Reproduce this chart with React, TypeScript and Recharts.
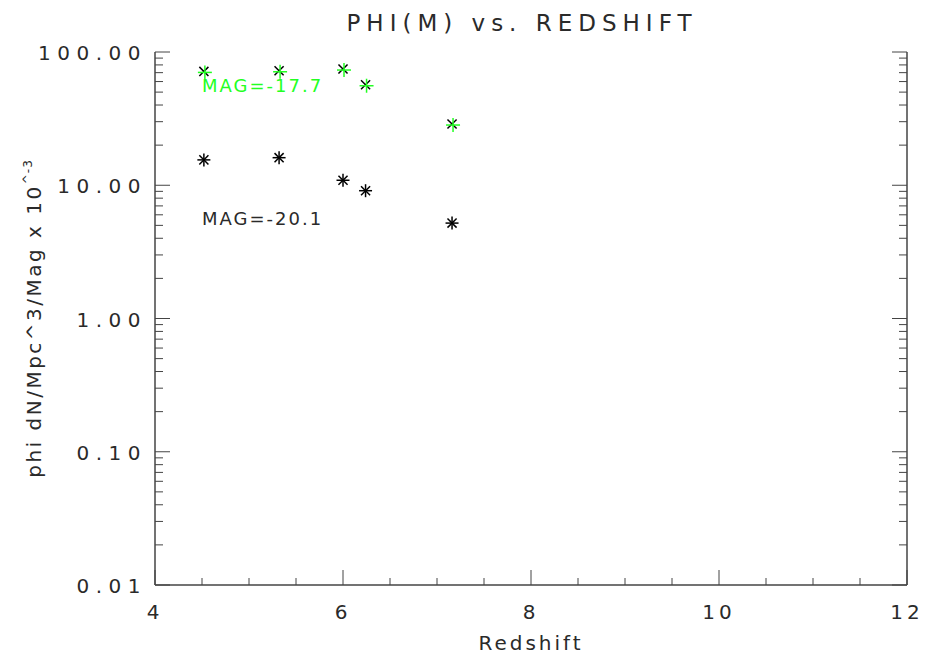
import React from "react";
import {
  ScatterChart,
  Scatter,
  XAxis,
  YAxis,
  ReferenceDot,
  Label,
} from "recharts";

// redshift bins and phi values (x 10^-3)
const redshift = [4.52, 5.32, 6.0, 6.24, 7.16];
const phiFaint = [71.5, 72.3, 74.5, 56.8, 28.8]; // MAG=-17.7
const phiBright = [15.5, 16.1, 10.9, 9.1, 5.2]; // MAG=-20.1

const xTicks = [4, 4.5, 5, 5.5, 6, 6.5, 7, 7.5, 8, 8.5, 9, 9.5, 10, 10.5, 11, 11.5, 12];
const xLabels = [4, 6, 8, 10, 12];
const yDecades = [0.01, 0.1, 1, 10, 100];
const yMinor = [1, 2, 3, 4, 5, 6, 7, 8, 9];

const yTicks = yDecades
  .flatMap((d) => (d === 100 ? [d] : yMinor.map((m) => +(d * m).toPrecision(3))));

const faint = redshift.map((z, i) => ({ z, phi: phiFaint[i] }));
const bright = redshift.map((z, i) => ({ z, phi: phiBright[i] }));

const FONT = "'DejaVu Sans', sans-serif";
const INK = "#2a2a2a";
const GREEN = "#22ff22";

const isDecade = (v: number) => Math.abs(Math.log10(v) - Math.round(Math.log10(v))) < 1e-6;

function Star({ cx, cy, color, parts, a = 6.5 }: any) {
  const d = a * 0.7;
  return (
    <g stroke={color} strokeWidth={1.5}>
      {parts !== "x" && (
        <>
          <line x1={cx - a} y1={cy} x2={cx + a} y2={cy} />
          <line x1={cx} y1={cy - a} x2={cx} y2={cy + a} />
        </>
      )}
      {parts !== "+" && (
        <>
          <line x1={cx - d} y1={cy - d} x2={cx + d} y2={cy + d} />
          <line x1={cx - d} y1={cy + d} x2={cx + d} y2={cy - d} />
        </>
      )}
    </g>
  );
}

function XTick({ x, y, payload, top }: any) {
  const v = payload.value;
  const major = xLabels.includes(v);
  const len = major ? 15 : 7;
  const dir = top ? 1 : -1;
  return (
    <g>
      <line x1={x} y1={y} x2={x} y2={y + dir * len} stroke="#444" strokeWidth={1} />
      {!top && major && (
        <text x={x} y={y + 34} textAnchor="middle" fill={INK} fontFamily={FONT} fontSize={20} letterSpacing={4}>
          {v}
        </text>
      )}
    </g>
  );
}

function YTick({ x, y, payload, right }: any) {
  const v = payload.value;
  const major = isDecade(v);
  const len = major ? 15 : 8;
  const dir = right ? -1 : 1;
  return (
    <g>
      <line x1={x} y1={y} x2={x + dir * len} y2={y} stroke="#444" strokeWidth={1} />
      {!right && major && (
        <text x={x - 8} y={y + 8} textAnchor="end" fill={INK} fontFamily={FONT} fontSize={20} letterSpacing={6.5}>
          {v.toFixed(2)}
        </text>
      )}
    </g>
  );
}

export default function App() {
  return (
    <div style={{ position: "absolute", left: 0, top: 0, background: "#fff" }}>
      <ScatterChart width={927} height={662} margin={{ top: 52, right: 0, bottom: 0, left: 0 }}>
        <XAxis
          xAxisId="b"
          dataKey="z"
          type="number"
          domain={[4, 12]}
          ticks={xTicks}
          interval={0}
          height={77}
          tickSize={0}
          tickMargin={0}
          tickLine={false}
          axisLine={{ stroke: "#444", strokeWidth: 1.5 }}
          tick={(p: any) => <XTick {...p} />}
        >
          <Label
            content={({ viewBox }: any) => (
              <text
                x={viewBox.x + viewBox.width / 2}
                y={650}
                textAnchor="middle"
                fill={INK}
                fontFamily={FONT}
                fontSize={20}
                letterSpacing={3}
              >
                Redshift
              </text>
            )}
          />
        </XAxis>
        <XAxis
          xAxisId="t"
          orientation="top"
          dataKey="z"
          type="number"
          domain={[4, 12]}
          ticks={xTicks}
          interval={0}
          height={0}
          tickSize={0}
          tickMargin={0}
          tickLine={false}
          axisLine={{ stroke: "#444", strokeWidth: 1.5 }}
          tick={(p: any) => <XTick {...p} top />}
        />
        <YAxis
          yAxisId="l"
          dataKey="phi"
          type="number"
          scale="log"
          domain={[0.01, 100]}
          allowDataOverflow
          ticks={yTicks}
          interval={0}
          width={155}
          tickSize={0}
          tickMargin={0}
          tickLine={false}
          axisLine={{ stroke: "#444", strokeWidth: 1.5 }}
          tick={(p: any) => <YTick {...p} />}
        >
          <Label
            content={({ viewBox }: any) => {
              const cy = viewBox.y + viewBox.height / 2;
              return (
                <text
                  x={41}
                  y={cy}
                  transform={`rotate(-90 41 ${cy})`}
                  textAnchor="middle"
                  fill={INK}
                  fontFamily={FONT}
                  fontSize={20}
                  letterSpacing={2.5}
                >
                  phi dN/Mpc^3/Mag x 10
                  <tspan dy={-9} fontSize={12} letterSpacing={1}>
                    ^-3
                  </tspan>
                </text>
              );
            }}
          />
        </YAxis>
        <YAxis
          yAxisId="r"
          orientation="right"
          dataKey="phi"
          type="number"
          scale="log"
          domain={[0.01, 100]}
          allowDataOverflow
          ticks={yTicks}
          interval={0}
          width={20}
          tickSize={0}
          tickMargin={0}
          tickLine={false}
          axisLine={{ stroke: "#444", strokeWidth: 1.5 }}
          tick={(p: any) => <YTick {...p} right />}
        />
        <Scatter
          xAxisId="b"
          yAxisId="l"
          data={bright}
          isAnimationActive={false}
          shape={(p: any) => <Star cx={p.cx} cy={p.cy} color="#000" />}
        />
        <Scatter
          xAxisId="b"
          yAxisId="l"
          data={faint}
          isAnimationActive={false}
          shape={(p: any) => <Star cx={p.cx} cy={p.cy} color="#000" parts="x" />}
        />
        <Scatter
          xAxisId="b"
          yAxisId="l"
          data={faint}
          isAnimationActive={false}
          shape={(p: any) => <Star cx={p.cx + 1} cy={p.cy + 1} color={GREEN} parts="+" a={7} />}
        />
        <ReferenceDot
          xAxisId="b"
          yAxisId="l"
          x={8}
          y={100}
          r={0}
          ifOverflow="visible"
          label={{
            content: ({ viewBox }: any) => (
              <text
                x={viewBox.x - 9}
                y={viewBox.y - 21}
                textAnchor="middle"
                fill={INK}
                fontFamily={FONT}
                fontSize={23}
                letterSpacing={6}
              >
                PHI(M) vs. REDSHIFT
              </text>
            ),
          }}
        />
        <ReferenceDot
          xAxisId="b"
          yAxisId="l"
          x={4.5}
          y={50}
          r={0}
          ifOverflow="visible"
          label={{
            content: ({ viewBox }: any) => (
              <text x={viewBox.x} y={viewBox.y} fill={GREEN} fontFamily={FONT} fontSize={18} letterSpacing={2}>
                MAG=-17.7
              </text>
            ),
          }}
        />
        <ReferenceDot
          xAxisId="b"
          yAxisId="l"
          x={4.5}
          y={5.03}
          r={0}
          ifOverflow="visible"
          label={{
            content: ({ viewBox }: any) => (
              <text x={viewBox.x} y={viewBox.y} fill={INK} fontFamily={FONT} fontSize={18} letterSpacing={2}>
                MAG=-20.1
              </text>
            ),
          }}
        />
      </ScatterChart>
    </div>
  );
}
